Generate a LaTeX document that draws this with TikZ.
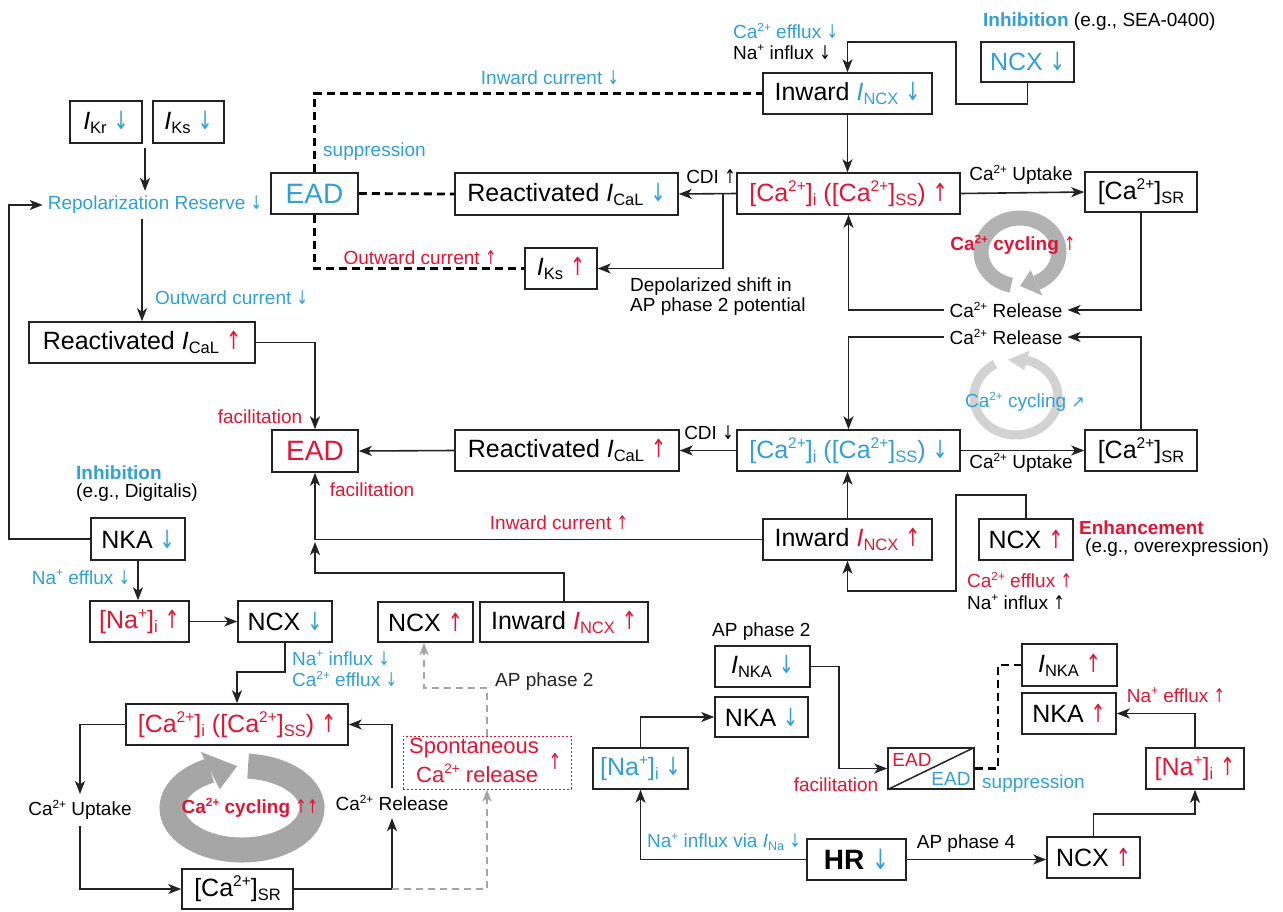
\documentclass[tikz,border=0pt]{standalone}
\usepackage{fontspec}
\usepackage{graphicx}
\setmainfont{Liberation Sans}
\newfontfamily\arrfont{DejaVu Sans}
\usetikzlibrary{arrows.meta,calc}
\definecolor{cred}{RGB}{226,22,52}
\definecolor{cblue}{RGB}{48,160,214}
\definecolor{lcol}{RGB}{35,35,35}
\definecolor{gline}{RGB}{165,165,165}
\definecolor{ringA}{RGB}{178,178,178}
\definecolor{ringB}{RGB}{210,210,210}
\definecolor{ringC}{RGB}{166,166,166}
\newcommand{\hi}[1]{\raisebox{0.75ex}{\scalebox{0.62}{#1}}}
\newcommand{\lo}[1]{\raisebox{-0.3ex}{\scalebox{0.66}{#1}}}
\newcommand{\UP}{{\arrfont\mdseries\scalebox{0.72}[1]{↑}}}
\newcommand{\DN}{{\arrfont\mdseries\scalebox{0.72}[1]{↓}}}
\newcommand{\NE}{{\arrfont\mdseries\scalebox{0.85}{↗}}}
\tikzset{
  box/.style={draw=lcol, line width=1.5pt, inner sep=0pt, minimum height=41pt, fill=white,
    font=\fontsize{25}{30}\selectfont},
  lab/.style={font=\fontsize{19}{22}\selectfont, inner sep=1pt},
  blab/.style={font=\fontsize{19}{22}\selectfont\bfseries, inner sep=1pt},
  arr/.style={draw=lcol, line width=1.6pt, -{Stealth[length=13pt,width=10pt,inset=3.5pt]}},
  bdash/.style={draw=black, line width=2.8pt, dash pattern=on 8pt off 5pt},
  gdash/.style={draw=gline, line width=2pt, dash pattern=on 7pt off 5pt},
  garr/.style={gdash, -{Stealth[length=12pt,width=9pt,inset=3pt]}},
}
\begin{document}
\begin{tikzpicture}[x=1pt,y=-1pt]
\useasboundingbox (0,0) rectangle (1283,911);
\fill[white] (0,0) rectangle (1283,911);

% ---- cycling rings
\draw[ringA, line width=15pt] plot[domain=103:425, samples=90, smooth] ({1020+39*cos(\x)},{252+34*sin(\x)});
\fill[ringA] ({1020+53*cos(425)},{252+48*sin(425)}) -- ({1020+25*cos(425)},{252+20*sin(425)}) -- ({1020+39*cos(450)},{252+34*sin(450)}) -- cycle;
\draw[ringB, line width=9pt] plot[domain=-75:240, samples=90, smooth] ({1016+42*cos(\x)},{397+38*sin(\x)});
\fill[ringB] ({1016+52*cos(-75)},{397+48*sin(-75)}) -- ({1016+32*cos(-75)},{397+28*sin(-75)}) -- ({1016+42*cos(-101)},{397+38*sin(-101)}) -- cycle;
\draw[ringC, line width=25pt] plot[domain=-85:243, samples=90, smooth] ({242+70*cos(\x)},{808+42*sin(\x)});
\fill[ringC] ({242+91*cos(243)},{808+63*sin(243)}) -- ({242+49*cos(243)},{808+21*sin(243)}) -- ({242+70*cos(266)},{808+42*sin(266)}) -- cycle;

% ---- top-left
\node[box, minimum width=72pt, minimum height=42pt] (kr) at (106,122) {\textit{I}\lo{Kr} \textcolor{cblue}{\DN}};
\node[box, minimum width=71pt, minimum height=42pt] (ks) at (188.5,122) {\textit{I}\lo{Ks} \textcolor{cblue}{\DN}};
\node[lab, text=cblue, inner sep=5pt] (repol) at (155,205) {Repolarization Reserve \DN};
\node[box, minimum width=226pt] (reactleft) at (142,342.5) {Reactivated \textit{I}\lo{CaL} \textcolor{cred}{\UP}};
\node[box, minimum width=87pt, text=cblue, font=\fontsize{28}{30}\selectfont] (eadtop) at (314.5,193.5) {EAD};
\node[box, minimum width=223pt, minimum height=42pt] (reacttop) at (566.5,194) {Reactivated \textit{I}\lo{CaL} \textcolor{cblue}{\DN}};
\node[box, minimum width=72pt] (ikstop) at (561,268.5) {\textit{I}\lo{Ks} \textcolor{cred}{\UP}};
\node[box, minimum width=223pt, text=cred] (cai1) at (848.5,193.5) {[Ca\hi{2+}]\lo{i} ([Ca\hi{2+}]\lo{SS}) \UP};
\node[box, minimum width=169pt] (inward1) at (847.5,93.5) {Inward \textcolor{cblue}{\textit{I}\lo{NCX} \DN}};
\node[box, minimum width=93pt, minimum height=40pt, text=cblue] (ncx1) at (1027.5,62) {NCX \DN};
\node[box, minimum width=112pt, minimum height=40pt] (sr1) at (1141,192) {[Ca\hi{2+}]\lo{SR}};
\node[lab, inner sep=5pt] (rel1) at (1006,310) {Ca\hi{2+} Release};
\node[lab, inner sep=5pt] (rel2) at (1006,337) {Ca\hi{2+} Release};

% ---- middle
\node[box, minimum width=86pt, minimum height=42pt, text=cred, font=\fontsize{28}{30}\selectfont] (eadmid) at (315,451) {EAD};
\node[box, minimum width=224pt] (reactmid) at (567,450.5) {Reactivated \textit{I}\lo{CaL} \textcolor{cred}{\UP}};
\node[box, minimum width=223pt, text=cblue] (cai2) at (848.5,450.5) {[Ca\hi{2+}]\lo{i} ([Ca\hi{2+}]\lo{SS}) \DN};
\node[box, minimum width=112pt] (sr2) at (1141,450.5) {[Ca\hi{2+}]\lo{SR}};
\node[box, minimum width=169pt] (inward2) at (847.5,539.5) {Inward \textcolor{cred}{\textit{I}\lo{NCX} \UP}};
\node[box, minimum width=94pt] (ncx2) at (1026,539.5) {NCX \textcolor{cred}{\UP}};

% ---- bottom-left
\node[box, minimum width=94pt, minimum height=42pt] (nka1) at (138,539) {NKA \textcolor{cblue}{\DN}};
\node[box, minimum width=99pt, text=cred] (na1) at (139.5,621.5) {[Na\hi{+}]\lo{i} \UP};
\node[box, minimum width=94pt] (ncx3) at (285,621.5) {NCX \textcolor{cblue}{\DN}};
\node[box, minimum width=95pt, minimum height=40pt] (ncx4) at (425.5,622) {NCX \textcolor{cred}{\UP}};
\node[box, minimum width=168pt, minimum height=40pt] (inward3) at (564,622) {Inward \textcolor{cred}{\textit{I}\lo{NCX} \UP}};
\node[box, minimum width=222pt, text=cred] (cai3) at (237,724.5) {[Ca\hi{2+}]\lo{i} ([Ca\hi{2+}]\lo{SS}) \UP};
\node[box, minimum width=111pt, minimum height=40pt] (sr3) at (237.5,889) {[Ca\hi{2+}]\lo{SR}};
\node[lab, inner sep=6pt] (upt3) at (80,810) {Ca\hi{2+} Uptake};
\node[lab, inner sep=7pt] (rel3) at (392,803) {Ca\hi{2+} Release};
\node[draw=cred, line width=1pt, dash pattern=on 2pt off 2pt, minimum width=168pt, minimum height=53pt, inner sep=0pt] (spont) at (487,762.5) {};

% ---- bottom-right
\node[box, minimum width=95pt] (inka1) at (762.5,666.5) {\textit{I}\lo{NKA} \textcolor{cblue}{\DN}};
\node[box, minimum width=93pt, minimum height=40pt] (nka2) at (761.5,717) {NKA \textcolor{cblue}{\DN}};
\node[box, minimum width=95pt, text=cblue] (na2) at (640.5,768.5) {[Na\hi{+}]\lo{i} \DN};
\node[box, minimum width=86pt] (eadsplit) at (931,768.5) {};
\node[box, minimum width=95pt, minimum height=42pt] (inka2) at (1069.5,665) {\textit{I}\lo{NKA} \textcolor{cred}{\UP}};
\node[box, minimum width=94pt] (nka3) at (1069,713.5) {NKA \textcolor{cred}{\UP}};
\node[box, minimum width=98pt, text=cred] (na3) at (1195,768.5) {[Na\hi{+}]\lo{i} \UP};
\node[box, minimum width=99pt, font=\fontsize{28}{30}\selectfont\bfseries] (hr) at (856.5,859.5) {HR \textcolor{cblue}{\DN}};
\node[box, minimum width=93pt] (ncx5) at (1093.5,857.5) {NCX \textcolor{cred}{\UP}};

% ---- connectors: top
\coordinate (krks) at (145,148);
\draw[arr] (krks) -- (krks |- repol.north);
\draw[arr] (repol.south -| reactleft.north) -- (reactleft.north);
\draw[arr] (nka1.west) -- (9,539) -- (9,205) -- (repol.west);
\draw[bdash] (eadtop.north) |- (inward1.west);
\draw[bdash] (eadtop.east) -- (reacttop.west);
\draw[bdash] (eadtop.south) |- (ikstop.west);
\draw[arr] (ncx1.south) |- (956,104) -- (956,42) -| (inward1.north);
\draw[arr] (inward1.south) -- (inward1.south |- cai1.north);
\draw[arr] (cai1.west) -- (reacttop.east);
\coordinate (cdib) at (723,193.5);
\draw[arr] (cdib) |- (ikstop.east);
\draw[arr] (cai1.east) -- (sr1.west);
\draw[arr] (sr1.south) |- (rel1.east);
\draw[arr] (rel1.west) -| (cai1.south);

% ---- connectors: middle
\draw[arr] (sr2.north) |- (rel2.east);
\draw[arr] (rel2.west) -| (cai2.north);
\draw[arr] (cai2.east) -- (sr2.west);
\draw[arr] (cai2.west) -- (reactmid.east);
\draw[arr] (reactmid.west) -- (eadmid.east);
\draw[arr] (reactleft.east) -| (eadmid.north);
\draw[arr] (inward2.north) -- (inward2.north |- cai2.south);
\draw[arr] (ncx2.north) |- (956,495) -- (956,591) -| (inward2.south);
\draw[arr] (inward2.west) -| (eadmid.south);
\coordinate (j1) at (315,573);
\coordinate (j2) at (315,542);
\draw[arr] (inward3.north) |- (j1) -- (j2);

% ---- connectors: bottom-left
\draw[arr] (nka1.south) -- (nka1.south |- na1.north);
\draw[arr] (na1.east) -- (ncx3.west);
\draw[arr] (ncx3.south) -- (285,672) -| (cai3.north);
\draw[arr] (cai3.west) -| (upt3.north);
\draw[arr] (upt3.south) |- (sr3.west);
\draw[arr] (sr3.east) -| (rel3.south);
\draw[arr] (rel3.north) |- (cai3.east);
\coordinate (g1) at (392,889);
\draw[garr] (g1) -| (spont.south);
\coordinate (g2) at (424,688);
\coordinate (g3) at (424,643);
\draw[garr] (spont.north) |- (g2) -- (g3);

% ---- connectors: bottom-right
\draw[arr] (na2.north) |- (nka2.west);
\draw[arr] (hr.west) -| (na2.south);
\draw[arr] (inka1.east) -- (839,666.5) |- (eadsplit.west);
\draw[bdash] (eadsplit.east) -- (998,768.5) |- (inka2.west);
\draw[arr] (na3.north) |- (nka3.east);
\draw[arr] (ncx5.north) -- (1093.5,814) -| (na3.south);
\draw[arr] (hr.east) -- (hr.east -| ncx5.west);
\draw[lcol, line width=1.5pt] (eadsplit.south west) -- (eadsplit.north east);
\node[text=cred, font=\fontsize{19}{22}\selectfont, inner sep=0pt] (eadr) at (912,760) {EAD};
\node[text=cblue, font=\fontsize{19}{22}\selectfont, inner sep=0pt] (eadb) at (951,779) {EAD};

% ---- labels
\node[lab, text=cblue] (l1) at (550,78) {Inward current \DN};
\node[lab, text=cblue, anchor=west] (l2) at (322,152) {suppression};
\node[lab, text=cred] (l3) at (420,258) {Outward current \UP};
\node[lab, text=cblue, anchor=west] (l4) at (154,298) {Outward current \DN};
\node[lab, text=cblue, anchor=west] (l5) at (732,31) {Ca\hi{2+} efflux \DN};
\node[lab, anchor=west] (l6) at (732,52) {Na\hi{+} influx \DN};
\node[lab, anchor=west] (l7) at (982,22) {\textcolor{cblue}{\bfseries Inhibition} (e.g., SEA-0400)};
\node[lab] (l8) at (711,177) {CDI \UP};
\node[lab, anchor=west] (l9) at (629,287) {Depolarized shift in};
\node[lab, anchor=west] (l10) at (629,307) {AP phase 2 potential};
\node[lab] (l11) at (1021,175) {Ca\hi{2+} Uptake};
\node[blab, text=cred] (l12) at (1013,245) {Ca\hi{2+} cycling \UP};
\node[lab, text=cblue] (l13) at (1025,402) {Ca\hi{2+} cycling \NE};
\node[lab] (l14) at (1021,463) {Ca\hi{2+} Uptake};
\node[lab] (l15) at (709,433) {CDI \DN};
\node[lab, text=cred] (l16) at (260,417) {facilitation};
\node[lab, text=cred] (l17) at (372,490) {facilitation};
\node[lab, text=cred] (l18) at (559,523) {Inward current \UP};
\node[blab, text=cred, anchor=west] (l19) at (1078,528) {Enhancement};
\node[lab, anchor=west] (l20) at (1084,548) {(e.g., overexpression)};
\node[lab, text=cred, anchor=west] (l21) at (966,580) {Ca\hi{2+} efflux \UP};
\node[lab, anchor=west] (l22) at (966,602) {Na\hi{+} influx \UP};
\node[blab, text=cblue, anchor=west] (l23) at (75,473) {Inhibition};
\node[lab, anchor=west] (l24) at (75,493) {(e.g., Digitalis)};
\node[lab, text=cblue] (l25) at (81,577) {Na\hi{+} efflux \DN};
\node[lab, text=cblue, anchor=west] (l26) at (291,658) {Na\hi{+} influx \DN};
\node[lab, text=cblue, anchor=west] (l27) at (291,679) {Ca\hi{2+} efflux \DN};
\node[lab, text=lcol, anchor=west] (l28) at (494,682) {AP phase 2};
\node[blab, text=cred] (l29) at (250,808) {Ca\hi{2+} cycling \UP\UP};
\node[text=cred, font=\fontsize{22}{24}\selectfont, anchor=west, inner sep=0pt] (s1) at (409,748) {Spontaneous};
\node[text=cred, font=\fontsize{22}{24}\selectfont, anchor=west, inner sep=0pt] (s2) at (416,773) {Ca\hi{2+} release};
\node[text=cred, font=\fontsize{22}{24}\selectfont, inner sep=0pt] (s3) at (555,761) {\UP};
\node[lab, anchor=west] (l30) at (711,632) {AP phase 2};
\node[lab, text=cblue, anchor=west] (l31) at (646,842) {Na\hi{+} influx via \textit{I}\lo{Na} \DN};
\node[lab, text=cred] (l32) at (836,785) {facilitation};
\node[lab, text=cblue, anchor=west] (l33) at (981,784) {suppression};
\node[lab, text=cred] (l34) at (1176,695) {Na\hi{+} efflux \UP};
\node[lab] (l35) at (966,844) {AP phase 4};
\end{tikzpicture}
\end{document}
